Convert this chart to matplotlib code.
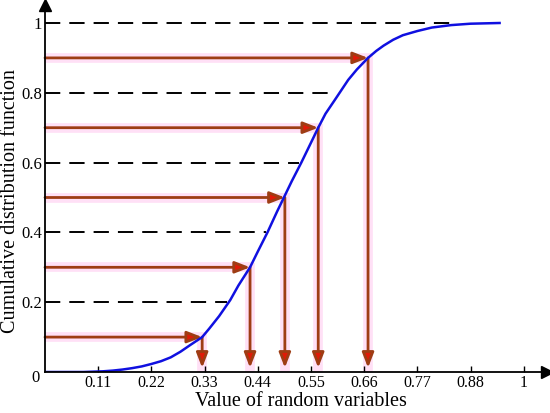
import numpy as np
import matplotlib
matplotlib.use("Agg")
import matplotlib.pyplot as plt

# ---- data ----
curve_x = [0.0, 0.08, 0.10, 0.12, 0.14, 0.16, 0.18, 0.20, 0.22, 0.24, 0.26, 0.28, 0.30,
           0.325, 0.34, 0.36, 0.37, 0.383, 0.40, 0.424, 0.44, 0.46, 0.48, 0.494, 0.51, 0.53,
           0.55, 0.565, 0.58, 0.60, 0.627, 0.645, 0.668, 0.685, 0.70, 0.72, 0.74,
           0.77, 0.80, 0.84, 0.88, 0.94]
curve_y = [0.0, 0.0, 0.001, 0.002, 0.004, 0.007, 0.011, 0.016, 0.023, 0.031, 0.042, 0.058,
           0.077, 0.10, 0.125, 0.16, 0.18, 0.206, 0.248, 0.30, 0.345, 0.40, 0.46, 0.50, 0.546,
           0.60, 0.657, 0.70, 0.74, 0.781, 0.837, 0.867, 0.90, 0.92, 0.935, 0.952, 0.965,
           0.977, 0.987, 0.994, 0.998, 1.0]
sample_levels = [0.1, 0.3, 0.5, 0.7, 0.9]
sample_values = [0.325, 0.424, 0.496, 0.565, 0.668]
grid_levels = [0.2, 0.4, 0.6, 0.8, 1.0]
grid_ends = [0.377, 0.458, 0.525, 0.60, 0.837]
xtick_vals = [0.11, 0.22, 0.33, 0.44, 0.55, 0.66, 0.77, 0.88, 0.99]
xtick_labels = ["0.11", "0.22", "0.33", "0.44", "0.55", "0.66", "0.77", "0.88", "1"]
ytick_vals = [0.2, 0.4, 0.6, 0.8, 1.0]
ytick_labels = ["0.2", "0.4", "0.6", "0.8", "1"]

BROWN = "#9E3D14"
RED = "#E01A08"
PINK = "#FFE0F6"
BLUE = "#1010E0"

plt.rcParams["font.family"] = ["Liberation Serif", "DejaVu Serif"]
plt.rcParams["lines.scale_dashes"] = False

W, H = 550, 413
fig = plt.figure(figsize=(5.5, 4.13), dpi=100)
x0, y0 = 45, 372
x1, y1 = 547, 5
ax = fig.add_axes([x0 / W, (H - y0) / H, (x1 - x0) / W, (y0 - y1) / H])
pxx = 483.6  # px per x unit
pxy = 349.0  # px per y unit
ax.set_xlim(0, (x1 - x0) / pxx)
ax.set_ylim(0, (y0 - y1) / pxy)

for s in ["top", "right"]:
    ax.spines[s].set_visible(False)
for s in ["left", "bottom"]:
    ax.spines[s].set_linewidth(1.3)
    ax.spines[s].set_zorder(6)

# axis arrow heads
ax.plot(1, 0, ">", color="black", ms=9, transform=ax.transAxes, clip_on=False, zorder=7)
ax.plot(0, 1, "^", color="black", ms=9, transform=ax.transAxes, clip_on=False, zorder=7)

# dashed grid lines up to the curve
for lv, xe in zip(grid_levels, grid_ends):
    ax.plot([0, xe], [lv, lv], color="black", lw=1.4, dashes=(11, 6.5), zorder=2)

# pink highlight bands
for lv, xv in zip(sample_levels, sample_values):
    ax.plot([0, xv + 0.008], [lv, lv], color=PINK, lw=7, solid_capstyle="butt", zorder=1)
    ax.plot([xv, xv], [lv + 0.012, 0], color=PINK, lw=7, solid_capstyle="butt", zorder=1)

# CDF curve
ax.plot(curve_x, curve_y, color=BLUE, lw=1.8, zorder=4)

# arrows
style = "-|>,head_length=0.9,head_width=0.35"
for lv, xv in zip(sample_levels, sample_values):
    ax.annotate("", xy=(xv, lv), xytext=(0, lv),
                arrowprops=dict(arrowstyle=style, lw=2.0, ec=BROWN, fc=RED,
                                shrinkA=0, shrinkB=0, mutation_scale=10), zorder=3)
    ax.annotate("", xy=(xv, 0.012), xytext=(xv, lv),
                arrowprops=dict(arrowstyle=style, lw=2.0, ec=BROWN, fc=RED,
                                shrinkA=0, shrinkB=0, mutation_scale=10), zorder=3)

ax.set_xticks(xtick_vals)
ax.set_xticklabels(xtick_labels)
ax.set_yticks(ytick_vals)
ax.set_yticklabels(ytick_labels)
ax.tick_params(axis="x", direction="in", length=4, width=1, pad=2, labelsize=11.5)
ax.tick_params(axis="y", length=0, pad=2, labelsize=12)
ax.text(-0.012, -0.018, "0", ha="right", va="center", fontsize=12, transform=ax.transData)

ax.set_xlabel("Value of random variables", fontsize=14.5)
ax.xaxis.set_label_coords((301 - x0) / (x1 - x0), -(401 - y0) / (y0 - y1))
ax.set_ylabel("Cumulative distribution function", fontsize=14.5)
ax.yaxis.set_label_coords(-(45 - 11) / (x1 - x0), (y0 - 201) / (y0 - y1))
ax.xaxis.label.set_va("center")
ax.yaxis.label.set_va("center")

fig.savefig("out.png", dpi=100)
